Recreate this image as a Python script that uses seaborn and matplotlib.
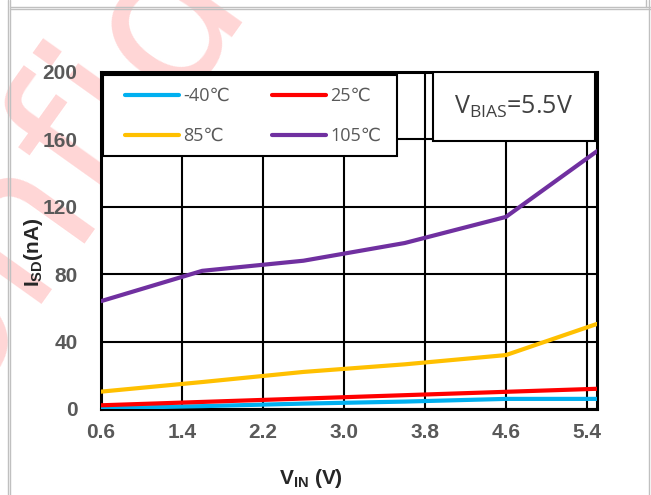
"""Reverse leakage current vs input voltage at several temperatures."""
import pandas as pd
import matplotlib.pyplot as plt
import matplotlib.patches as mpatches
from matplotlib.lines import Line2D
import seaborn as sns

# data
vin = [0.6, 1.6, 2.6, 3.6, 4.6, 5.5]
temp_labels = ["-40℃", "25℃", "85℃", "105℃"]
isd_m40 = [0.5, 1.7, 3.2, 4.4, 6.0, 6.0]
isd_25 = [2.2, 4.2, 6.2, 8.2, 10.2, 12.0]
isd_85 = [10.3, 16.0, 22.0, 26.5, 32.0, 50.5]
isd_105 = [64.0, 82.0, 88.0, 98.5, 114.0, 153.0]
line_colors = ["#00b0f0", "#ff0000", "#ffc000", "#7030a0"]
x_ticks = [0.6, 1.4, 2.2, 3.0, 3.8, 4.6, 5.4]
y_ticks = [0, 40, 80, 120, 160, 200]


def build_frame():
    rows = []
    for label, values in zip(temp_labels, [isd_m40, isd_25, isd_85, isd_105]):
        for v, i in zip(vin, values):
            rows.append({"VIN": v, "ISD": i, "Temp": label})
    return pd.DataFrame(rows)


def main():
    sns.set_theme(style="white")
    plt.rcParams["font.family"] = ["Open Sans", "DejaVu Sans"]
    plt.rcParams["mathtext.fontset"] = "custom"

    df = build_frame()
    fig = plt.figure(figsize=(6.51, 4.95), dpi=100)
    ax = fig.add_axes([101 / 651, 1 - 409 / 495, 496 / 651, 337 / 495])

    # faint watermark behind the chart, mostly running off the top-left
    fig.text(-126 / 651, 1 - 523 / 495, "Confidential", fontsize=145,
             color="#ffd6d6", rotation=54.5, rotation_mode="anchor",
             ha="left", va="baseline", zorder=-5, family="DejaVu Sans")

    sns.lineplot(data=df, x="VIN", y="ISD", hue="Temp", hue_order=temp_labels,
                 palette=line_colors, linewidth=3, ax=ax, legend=False,
                 zorder=4)

    ax.set_xlim(0.6, 5.5)
    ax.set_ylim(0, 200)
    ax.set_xticks(x_ticks)
    ax.set_xticklabels([f"{t:.1f}" for t in x_ticks])
    ax.set_yticks(y_ticks)
    ax.grid(True, color="black", linewidth=1.5)
    ax.set_axisbelow(True)
    for s in ax.spines.values():
        s.set_visible(True)
        s.set_color("black")
        s.set_linewidth(2.2)
    ax.tick_params(length=0, labelsize=15, labelcolor="#595959")
    ax.tick_params(axis="y", pad=17)
    ax.tick_params(axis="x", pad=10)
    for lab in ax.get_xticklabels() + ax.get_yticklabels():
        lab.set_family("Liberation Sans")
        lab.set_fontweight("bold")

    ax.set_xlabel(r"$\mathregular{V_{IN}}$ (V)", fontsize=15,
                  fontweight="bold", family="Liberation Sans", va="center")
    ax.set_ylabel(r"$\mathregular{I_{SD}}$(nA)", fontsize=15,
                  fontweight="bold", family="Liberation Sans", va="center")
    ax.xaxis.set_label_coords(0.423, -0.205)
    ax.yaxis.set_label_coords(-0.137, 0.466)

    # legend: rows read -40/25 then 85/105, frame drawn separately
    order = [0, 2, 1, 3]
    handles = [Line2D([], [], color=line_colors[k], linewidth=3) for k in order]
    ax.legend(handles, [temp_labels[k] for k in order], ncol=2,
              loc="upper left", bbox_to_anchor=(0.048, 0.955),
              borderaxespad=0, borderpad=0, frameon=False, fontsize=13,
              handlelength=3.0, handletextpad=0.25, columnspacing=2.3,
              labelspacing=1.2, labelcolor="#595959")
    ax.add_patch(mpatches.Rectangle((0.004, 0.751), 0.593, 0.240,
                                    transform=ax.transAxes, facecolor="white",
                                    edgecolor="black", linewidth=1.5,
                                    zorder=5))

    # V_BIAS note box
    ax.add_patch(mpatches.Rectangle((0.669, 0.795), 0.327, 0.205,
                                    transform=ax.transAxes, facecolor="white",
                                    edgecolor="black", linewidth=1.5,
                                    zorder=5))
    ax.text(0.8325, 0.897, r"$\mathregular{V_{BIAS}}$=5.5V",
            transform=ax.transAxes, fontsize=18, color="#404040",
            ha="center", va="center", zorder=7)

    # thin grey table borders around the picture
    border = "#c0c0c0"
    for x in (7.5, 9.5, 648.5):
        fig.add_artist(Line2D([x / 651, x / 651], [0, 1], color=border,
                              linewidth=1, transform=fig.transFigure))
    fig.add_artist(Line2D([645.5 / 651, 645.5 / 651], [1 - 7 / 495, 1],
                          color=border, linewidth=1,
                          transform=fig.transFigure))
    for y in (6.5, 8.5):
        fig.add_artist(Line2D([9.5 / 651, 1], [1 - y / 495, 1 - y / 495],
                              color=border, linewidth=1,
                              transform=fig.transFigure))

    fig.savefig("out.png", dpi=100)
    plt.close(fig)


if __name__ == "__main__":
    main()
